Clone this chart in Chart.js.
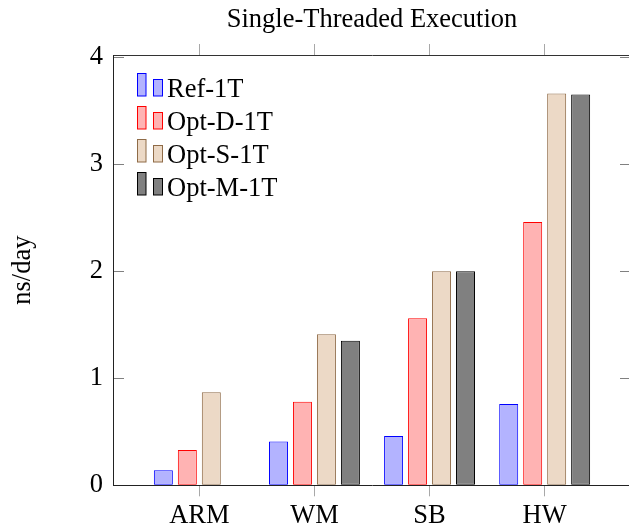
<!DOCTYPE html>
<html><head><meta charset="utf-8">
<script src="https://cdn.jsdelivr.net/npm/chart.js@4"></script>
<style>
html,body{margin:0;padding:0;overflow:hidden;background:#fff;width:629px;height:529px}
#wrap{width:640px;height:529px;position:relative}
</style>
</head><body><div id="wrap"><canvas id="c"></canvas></div>
<script>
const categories = ['ARM', 'WM', 'SB', 'HW'];
const seriesNames = ['Ref-1T', 'Opt-D-1T', 'Opt-S-1T', 'Opt-M-1T'];
const refValues  = [0.14, 0.41, 0.46, 0.76];
const optDValues = [0.33, 0.78, 1.56, 2.46];
const optSValues = [0.87, 1.41, 2.00, 3.66];
const optMValues = [0.00, 1.35, 2.00, 3.65];
const yTicks = [0, 1, 2, 3, 4];
const yTitle = 'ns/day';
const chartTitle = 'Single-Threaded Execution';

const seriesValues = [refValues, optDValues, optSValues, optMValues];
const fills = ['#b3b3ff', '#ffb3b3', '#ecd9c6', '#808080'];
const strokes = ['#0000ff', '#ff0000', '#8f6b47', '#000000'];
const FS = 26.5;

Chart.defaults.font.family = '"Liberation Serif", "Times New Roman", serif';
Chart.defaults.font.size = FS;
Chart.defaults.color = '#000';

const xTickBuilder = s => { s.ticks = categories.map((_, i) => ({ value: i + 1 })); };
const yTickBuilder = s => { s.ticks = yTicks.map(v => ({ value: v })); };

const legendPlugin = {
  id: 'pgfLegend',
  afterDatasetsDraw(chart) {
    const { ctx, chartArea: ca } = chart;
    ctx.save();
    ctx.font = FS + 'px "Liberation Serif"';
    ctx.textBaseline = 'alphabetic';
    ctx.textAlign = 'left';
    chart.data.datasets.forEach((ds, i) => {
      const top = Math.round(ca.top + 18.3 + i * 32.9);
      ctx.lineWidth = 1;
      ctx.fillStyle = ds.backgroundColor;
      ctx.strokeStyle = ds.borderColor;
      const x1 = Math.round(ca.left + 24) + 0.5;
      const x2 = Math.round(ca.left + 40) + 0.5;
      ctx.fillRect(x1, top + 0.5, 8.5, 22.5);
      ctx.strokeRect(x1, top + 0.5, 8.5, 22.5);
      ctx.fillRect(x2, top + 6.5, 9, 16.5);
      ctx.strokeRect(x2, top + 6.5, 9, 16.5);
      ctx.fillStyle = '#000';
      ctx.fillText(ds.label, ca.left + 54, top + 24);
    });
    ctx.restore();
  }
};

new Chart(document.getElementById('c'), {
  type: 'bar',
  data: {
    datasets: seriesNames.map((name, k) => ({
      label: name,
      data: seriesValues[k].map((v, i) => ({ x: i + 1, y: v })),
      backgroundColor: fills[k],
      borderColor: strokes[k],
      borderWidth: 1,
      borderSkipped: false,
      categoryPercentage: 0.8333,
      barPercentage: 0.792,
      xAxisID: 'x',
      yAxisID: 'y'
    }))
  },
  options: {
    responsive: true,
    maintainAspectRatio: false,
    animation: false,
    devicePixelRatio: 1,
    layout: { padding: { left: 0, right: 9, top: 0, bottom: 0 } },
    plugins: { legend: { display: false }, title: { display: false }, tooltip: { enabled: false } },
    scales: {
      x: {
        type: 'linear', position: 'bottom', min: 0.25, max: 4.75, offset: false,
        grid: { offset: false, drawOnChartArea: false, drawTicks: true, tickLength: 11, tickColor: '#a8a8a8', tickWidth: 1 },
        border: { display: true, color: '#222', width: 1 },
        ticks: { padding: 3.5, maxRotation: 0, minRotation: 0, autoSkip: false, color: '#000',
                 callback: v => categories[Math.round(v) - 1] ?? '' },
        afterBuildTicks: xTickBuilder,
        afterFit: s => { s.height = 43.7; }
      },
      x2: {
        type: 'linear', position: 'top', min: 0.25, max: 4.75, offset: false,
        grid: { offset: false, drawOnChartArea: false, drawTicks: true, tickLength: 11, tickColor: '#a8a8a8', tickWidth: 1 },
        border: { display: true, color: '#333', width: 1 },
        ticks: { display: false },
        title: { display: true, text: chartTitle, color: '#000', font: { size: FS }, padding: { top: 4, bottom: 0 } },
        afterBuildTicks: xTickBuilder,
        afterFit: s => { s.height = 55; }
      },
      y: {
        type: 'linear', position: 'left', min: 0, max: 4.02,
        grid: { drawOnChartArea: false, drawTicks: true, tickLength: -11, tickColor: '#808080', tickWidth: 1 },
        border: { display: true, color: '#222', width: 1 },
        ticks: { padding: 21, color: '#000' },
        title: { display: true, text: yTitle, color: '#000', font: { size: FS }, padding: { top: 7.4, bottom: 0 } },
        afterBuildTicks: yTickBuilder,
        afterFit: s => { s.width = 113; }
      },
      y2: {
        type: 'linear', position: 'right', min: 0, max: 4.02,
        grid: { drawOnChartArea: false, drawTicks: true, tickLength: -11, tickColor: '#808080', tickWidth: 1 },
        border: { display: true, color: '#222', width: 1 },
        ticks: { display: false },
        afterBuildTicks: yTickBuilder,
        afterFit: s => { s.width = 0; }
      }
    }
  },
  plugins: [legendPlugin]
});
</script></body></html>
